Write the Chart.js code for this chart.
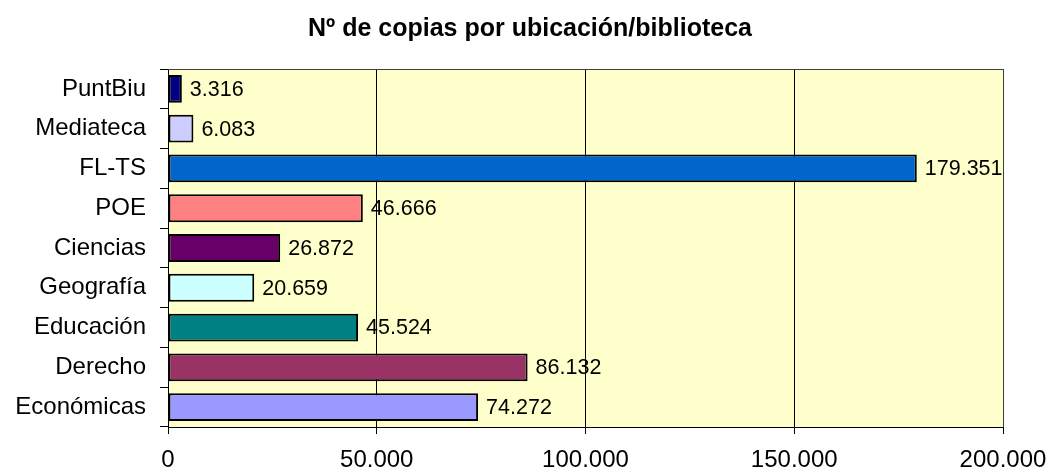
<!DOCTYPE html>
<html>
<head>
<meta charset="utf-8">
<script src="https://cdn.jsdelivr.net/npm/chart.js@4/dist/chart.umd.min.js"></script>
<style>
  html, body { margin: 0; padding: 0; background: #fff; }
  #grafica { display: block; }
</style>
</head>
<body>
<canvas id="grafica" width="1050" height="473"></canvas>
<script>
// Datos
const titulo = 'Nº de copias por ubicación/biblioteca';
const ubicaciones = ['PuntBiu', 'Mediateca', 'FL-TS', 'POE', 'Ciencias', 'Geografía', 'Educación', 'Derecho', 'Económicas'];
const copias = [3316, 6083, 179351, 46666, 26872, 20659, 45524, 86132, 74272];
const colores = ['#000080', '#CCCCFF', '#0066CC', '#FF8080', '#660066', '#CCFFFF', '#008080', '#993366', '#9999FF'];
const ticksX = [0, 50000, 100000, 150000, 200000];

const fuente = '"Liberation Sans", Arial, sans-serif';

// Formato con punto como separador de miles
function miles(v) {
    return String(v).replace(/\B(?=(\d{3})+(?!\d))/g, '.');
}

// Fondo amarillo del área de trazado, borde superior y título
const fondoPlugin = {
    id: 'fondo',
    beforeDraw(chart) {
        const { ctx, chartArea: a } = chart;
        ctx.save();
        ctx.fillStyle = '#FFFFCC';
        ctx.fillRect(a.left, a.top, a.right - a.left, a.bottom - a.top);
        ctx.restore();
    },
    afterDraw(chart) {
        const { ctx, chartArea: a } = chart;
        ctx.save();
        ctx.strokeStyle = '#404040';
        ctx.lineWidth = 1;
        ctx.beginPath();
        ctx.moveTo(a.left, a.top + 0.5);
        ctx.lineTo(a.right + 0.5, a.top + 0.5);
        ctx.lineTo(a.right + 0.5, a.bottom);
        ctx.stroke();

        ctx.font = 'bold 25px ' + fuente;
        ctx.fillStyle = '#000';
        ctx.textAlign = 'center';
        ctx.textBaseline = 'alphabetic';
        ctx.fillText(titulo, 530, 36);
        ctx.restore();
    }
};

// Etiquetas de valor a la derecha de cada barra
const etiquetasPlugin = {
    id: 'etiquetas',
    afterDatasetsDraw(chart) {
        const { ctx } = chart;
        const meta = chart.getDatasetMeta(0);
        ctx.save();
        ctx.font = '21.5px ' + fuente;
        ctx.fillStyle = '#000';
        ctx.textAlign = 'left';
        ctx.textBaseline = 'middle';
        meta.data.forEach((barra, i) => {
            ctx.fillText(miles(copias[i]), barra.x + 8, barra.y + 1);
        });
        ctx.restore();
    }
};

new Chart(document.getElementById('grafica'), {
    type: 'bar',
    data: {
        labels: ubicaciones,
        datasets: [{
            data: copias,
            backgroundColor: colores,
            borderColor: '#000',
            borderWidth: 2,
            borderSkipped: false,
            categoryPercentage: 1,
            barPercentage: 0.7
        }]
    },
    options: {
        indexAxis: 'y',
        responsive: false,
        animation: false,
        layout: { padding: { left: 0, right: 47, top: 69, bottom: 0 } },
        plugins: {
            legend: { display: false },
            tooltip: { enabled: false },
            title: { display: false }
        },
        scales: {
            x: {
                min: 0,
                max: 200000,
                afterBuildTicks(scale) {
                    scale.ticks = ticksX.map(v => ({ value: v }));
                },
                afterFit(scale) {
                    scale.height = 46;
                    scale.paddingLeft = 0;
                    scale.paddingRight = 0;
                },
                grid: { color: '#000', lineWidth: 1, tickLength: 7 },
                border: { color: '#000', width: 1 },
                ticks: {
                    color: '#000',
                    padding: 12,
                    maxRotation: 0,
                    font: { family: fuente, size: 24 },
                    callback: v => miles(v)
                }
            },
            y: {
                afterFit(scale) {
                    scale.width = 168;
                    scale.paddingTop = 0;
                    scale.paddingBottom = 0;
                },
                grid: { offset: true, drawOnChartArea: false, color: '#000', tickLength: 8 },
                border: { color: '#000', width: 1 },
                ticks: {
                    color: '#000',
                    padding: 14,
                    font: { family: fuente, size: 24 }
                }
            }
        }
    },
    plugins: [fondoPlugin, etiquetasPlugin]
});
</script>
</body>
</html>
